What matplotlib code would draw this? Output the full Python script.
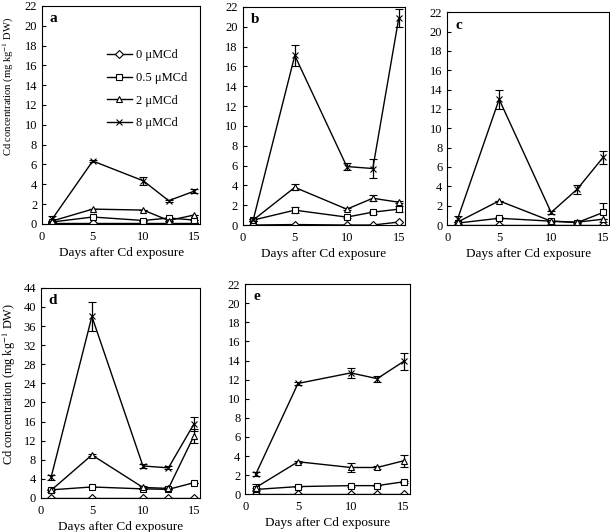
import numpy as np
import matplotlib
matplotlib.use("Agg")
import matplotlib.pyplot as plt
from matplotlib.lines import Line2D

plt.rcParams['font.family'] = ['Liberation Serif', 'DejaVu Serif']
plt.rcParams['mathtext.fontset'] = 'stix'

days = [1, 5, 10, 12.5, 15]
treatments = ['0 \u03bcMCd', '0.5 \u03bcMCd', '2 \u03bcMCd', '8 \u03bcMCd']
markers = ['D', 's', '^', 'x']

# panel a
a_0 = [0.05, 0.05, 0.05, 0.05, 0.05]
a_05 = [0.2, 0.7, 0.35, 0.6, 0.4]
a_2 = [0.3, 1.5, 1.4, 0.35, 0.9]
a_8 = [0.5, 6.35, 4.35, 2.35, 3.3]
a_8_err = [0.3, 0.1, 0.4, 0.1, 0.2]

# panel b
b_0 = [0.0, 0.05, 0.0, 0.0, 0.3]
b_05 = [0.5, 1.5, 0.8, 1.3, 1.6]
b_05_err = [0.1, 0.3, 0.1, 0.15, 0.3]
b_2 = [0.5, 3.8, 1.6, 2.7, 2.3]
b_2_err = [0.1, 0.3, 0.1, 0.3, 0.1]
b_8 = [0.5, 17.1, 5.9, 5.7, 20.9]
b_8_err = [0.1, 1.1, 0.35, 1.0, 0.9]

# panel c
c_0 = [0.0, 0.0, 0.0, 0.0, 0.0]
c_05 = [0.2, 0.7, 0.4, 0.25, 1.3]
c_05_err = [0.1, 0.1, 0.05, 0.05, 1.0]
c_2 = [0.3, 2.5, 0.4, 0.3, 0.6]
c_8 = [0.6, 13.0, 1.3, 3.7, 7.0]
c_8_err = [0.3, 1.0, 0.2, 0.45, 0.7]

# panel d
d_0 = [0.0, 0.0, 0.0, 0.0, 0.0]
d_05 = [1.7, 2.3, 1.9, 1.8, 3.2]
d_2 = [1.6, 9.0, 2.2, 2.0, 13.0]
d_2_err = [0.3, 0.3, 0.3, 0.3, 1.5]
d_8 = [4.3, 38.0, 6.7, 6.3, 15.5]
d_8_err = [0.5, 3.0, 0.5, 0.3, 1.5]

# panel e
e_0 = [0.0, 0.0, 0.0, 0.0, 0.0]
e_05 = [0.5, 0.8, 0.9, 0.9, 1.3]
e_05_err = [0.1, 0.05, 0.1, 0.05, 0.1]
e_2 = [0.7, 3.4, 2.8, 2.8, 3.5]
e_2_err = [0.4, 0.1, 0.5, 0.2, 0.6]
e_8 = [2.1, 11.6, 12.7, 12.1, 13.9]
e_8_err = [0.2, 0.2, 0.5, 0.3, 0.9]

zero = [0, 0, 0, 0, 0]
panels = [
    ('a', [a_0, a_05, a_2, a_8], [zero, zero, zero, a_8_err], 22, 2),
    ('b', [b_0, b_05, b_2, b_8], [zero, b_05_err, b_2_err, b_8_err], 22, 2),
    ('c', [c_0, c_05, c_2, c_8], [zero, c_05_err, zero, c_8_err], 22, 2),
    ('d', [d_0, d_05, d_2, d_8], [zero, zero, d_2_err, d_8_err], 44, 4),
    ('e', [e_0, e_05, e_2, e_8], [zero, e_05_err, e_2_err, e_8_err], 22, 2),
]
positions = [
    [0.069, 0.579, 0.259, 0.410],
    [0.398, 0.577, 0.266, 0.410],
    [0.733, 0.577, 0.266, 0.400],
    [0.067, 0.064, 0.261, 0.395],
    [0.402, 0.071, 0.270, 0.395],
]

fig = plt.figure(figsize=(6.1, 5.32), dpi=100)

def mstyle(mk):
    return dict(marker=mk, markersize=4 if mk != 'x' else 4.5,
                markerfacecolor='white', markeredgecolor='black',
                markeredgewidth=0.8)

for (letter, series, errs, ymax, step), pos in zip(panels, positions):
    ax = fig.add_axes(pos)
    for vals, err, mk in zip(series, errs, markers):
        ax.errorbar(days, vals, yerr=err, color='black', lw=1.0,
                    capsize=3, elinewidth=0.9, capthick=0.9, **mstyle(mk))
    ax.set_xlim(0, 15.6)
    ax.set_ylim(0, ymax)
    ax.set_xticks([0, 5, 10, 15])
    ax.set_yticks(np.arange(0, ymax + 1, step))
    ax.tick_params(direction='in', labelsize=9, length=3, width=0.8)
    ax.tick_params(axis='x', length=0, pad=5)
    for s in ax.spines.values():
        s.set_linewidth(0.8)
    ax.text(0.05, 0.97, letter, transform=ax.transAxes, fontsize=11,
            fontweight='bold', va='top', ha='left')
    ax.set_xlabel('Days after Cd exposure', fontsize=9.5, labelpad=3)
    if letter == 'a':
        ax.set_ylabel('Cd concentration (mg kg$^{-1}$ DW)', fontsize=7.6)
        ax.yaxis.set_label_coords(-0.165, 0.63)
        handles = [Line2D([], [], color='black', lw=1.0, **mstyle(mk))
                   for mk in markers]
        ax.legend(handles, treatments, loc='upper left',
                  bbox_to_anchor=(0.41, 0.8), frameon=False, fontsize=9,
                  handlelength=2.0, labelspacing=0.85, handletextpad=0.3,
                  borderaxespad=0, borderpad=0)
    if letter == 'd':
        ax.set_ylabel('Cd concentration (mg kg$^{-1}$ DW)', fontsize=8.8)
        ax.yaxis.set_label_coords(-0.145, 0.54)

fig.savefig('out.png', dpi=100)
